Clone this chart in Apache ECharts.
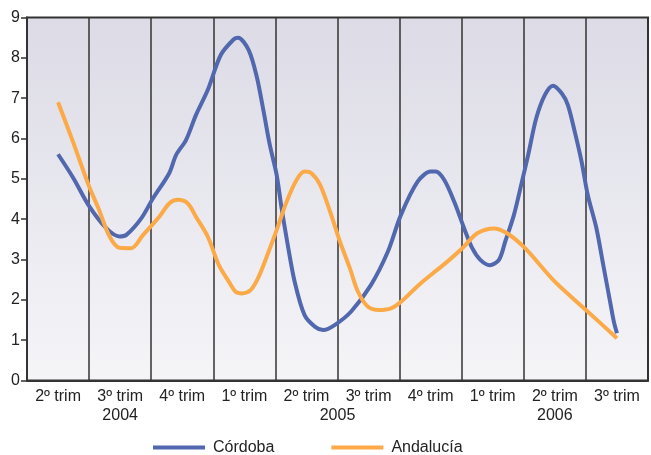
<!DOCTYPE html>
<html>
<head>
<meta charset="utf-8">
<script src="https://cdn.jsdelivr.net/npm/echarts@6/dist/echarts.min.js"></script>
<style>html,body{margin:0;padding:0;background:#fff}#c{width:651px;height:455px}</style>
</head>
<body>
<div id="c"></div>
<script>
// Quarter categories (x labels)
const categories = ['2º trim','3º trim','4º trim','1º trim','2º trim','3º trim','4º trim','1º trim','2º trim','3º trim'];
// Year labels, positioned in quarter units (0 = left edge of first quarter)
const yearLabels = { '1.5': '2004', '5': '2005', '8.5': '2006' };
const seriesNames = ['Córdoba', 'Andalucía'];

// Córdoba: [position in quarters, value]
const cordoba = [
  [0.5,5.61],[0.75,5.01],[0.99,4.35],[1.28,3.77],[1.49,3.57],[1.6,3.61],[1.84,4.02],[2.03,4.52],
  [2.29,5.14],[2.4,5.59],[2.56,5.96],[2.72,6.58],[2.91,7.2],[3.12,8.07],[3.33,8.46],[3.4,8.5],
  [3.57,8.19],[3.70,7.53],[3.81,6.67],[3.91,5.84],[4.02,5.1],[4.1,4.27],[4.19,3.44],[4.31,2.45],
  [4.47,1.62],[4.64,1.33],[4.77,1.25],[4.96,1.38],[5.22,1.71],[5.54,2.37],[5.81,3.19],[6.02,4.1],
  [6.29,4.93],[6.5,5.18],[6.58,5.18],[6.72,4.97],[6.88,4.43],[7.04,3.77],[7.17,3.28],[7.3,2.99],
  [7.45,2.86],[7.6,2.99],[7.7,3.44],[7.84,4.1],[7.97,4.93],[8.07,5.59],[8.2,6.5],[8.34,7.08],
  [8.47,7.31],[8.61,7.12],[8.71,6.83],[8.82,6.17],[8.93,5.43],[9.03,4.6],[9.17,3.77],[9.28,2.86],
  [9.39,1.95],[9.45,1.46],[9.5,1.17]
];
// Andalucía: [position in quarters, value]
const andalucia = [
  [0.5,6.9],[0.75,5.88],[0.99,4.85],[1.15,4.27],[1.33,3.57],[1.49,3.29],[1.68,3.28],[1.87,3.61],
  [2.13,4.06],[2.29,4.39],[2.43,4.48],[2.59,4.39],[2.72,4.06],[2.91,3.57],[3.09,2.86],[3.25,2.45],
  [3.36,2.2],[3.46,2.16],[3.6,2.24],[3.73,2.57],[3.89,3.19],[4.05,3.86],[4.18,4.43],[4.34,4.97],
  [4.47,5.18],[4.58,5.14],[4.72,4.85],[4.88,4.19],[5.04,3.44],[5.2,2.78],[5.33,2.2],[5.49,1.83],
  [5.67,1.75],[5.86,1.79],[6.02,1.95],[6.31,2.37],[6.61,2.75],[6.74,2.91],[7.01,3.28],[7.25,3.65],
  [7.52,3.77],[7.73,3.65],[8.02,3.28],[8.5,2.45],[9.0,1.75],[9.5,1.05]
];
const yTicks = { min: 0, max: 9, interval: 1 };

const FONT = '"Liberation Sans", Arial, sans-serif';
const chart = echarts.init(document.getElementById('c'));
chart.setOption({
  animation: false,
  backgroundColor: '#ffffff',
  textStyle: { fontFamily: FONT },
  grid: {
    left: 27, top: 17.5, right: -1, bottom: 74.5,
    show: true, borderColor: '#333', borderWidth: 2,
    backgroundColor: new echarts.graphic.LinearGradient(0, 0, 0, 1, [
      { offset: 0, color: '#dcdbe6' }, { offset: 1, color: '#f5f5f8' }
    ])
  },
  xAxis: [
    {
      type: 'category', data: categories, boundaryGap: true, position: 'bottom',
      axisLine: { show: true, lineStyle: { color: '#333', width: 2 } },
      axisTick: { show: false },
      splitLine: { show: true, lineStyle: { color: '#333', width: 1.5 } },
      axisLabel: { color: '#222', fontSize: 16, margin: 8, fontFamily: FONT, interval: 0 }
    },
    {
      type: 'value', min: 0, max: 10, interval: 0.5, position: 'bottom',
      axisLine: { show: false }, axisTick: { show: false }, splitLine: { show: false },
      axisLabel: {
        color: '#222', fontSize: 16, margin: 27, fontFamily: FONT, showMinLabel: true, showMaxLabel: true,
        formatter: v => yearLabels[String(v)] || ''
      }
    }
  ],
  yAxis: {
    type: 'value', min: yTicks.min, max: yTicks.max, interval: yTicks.interval,
    axisLine: { show: true, lineStyle: { color: '#333', width: 2 } },
    axisTick: { show: true, length: 6, lineStyle: { color: '#333', width: 1.5 } },
    splitLine: { show: false },
    axisLabel: { color: '#222', fontSize: 16, margin: 7, fontFamily: FONT }
  },
  legend: {
    top: 439, left: 153, itemWidth: 52, itemHeight: 4, itemGap: 57, padding: 0,
    icon: 'rect',
    textStyle: { fontSize: 16, color: '#222', fontFamily: FONT, padding: [0, 0, 0, 3], lineHeight: 17 },
    data: seriesNames
  },
  series: [
    {
      name: seriesNames[0], type: 'line', xAxisIndex: 1, data: cordoba, smooth: 0.3,
      showSymbol: false, symbol: 'none', lineStyle: { color: '#5167ae', width: 4 }, itemStyle: { color: '#5167ae' }
    },
    {
      name: seriesNames[1], type: 'line', xAxisIndex: 1, data: andalucia, smooth: 0.3,
      showSymbol: false, symbol: 'none', lineStyle: { color: '#fbaa47', width: 4 }, itemStyle: { color: '#fbaa47' }
    }
  ]
});
</script>
</body>
</html>
